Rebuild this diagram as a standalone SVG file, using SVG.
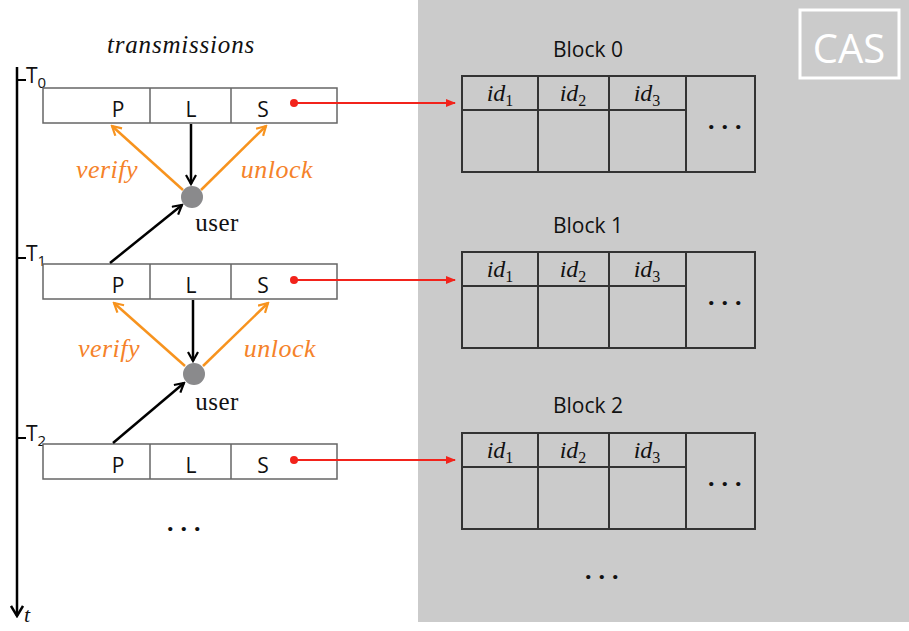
<svg xmlns="http://www.w3.org/2000/svg" width="909" height="631" viewBox="0 0 909 631">
<style>
.serif{font-family:"Liberation Serif","Times New Roman",serif}
.sans{font-family:"Open Sans","Liberation Sans",sans-serif}
.box{fill:#fff;stroke:#666;stroke-width:1.5}
.cell{fill:none;stroke:#333;stroke-width:2}
.ltr{font-size:21px;fill:#111;text-anchor:middle}
.id{font-size:24px;font-style:italic;fill:#111}
.sub{font-size:16px;font-style:normal}
.blk{font-size:21px;fill:#111;text-anchor:middle}
.org{stroke:#f7931e;stroke-width:2.5;fill:none;marker-end:url(#ao)}
.blk-arr{stroke:#000;stroke-width:2.5;fill:none;marker-end:url(#ab)}
.red{stroke:#f2231b;stroke-width:2;fill:none;marker-end:url(#ar)}
.lbl{font-size:26px;font-style:italic;fill:#f5822a;letter-spacing:0.5px}
.user{font-size:25px;fill:#111;text-anchor:middle;letter-spacing:0.5px}
.dots{font-size:26px;font-weight:bold;fill:#111;letter-spacing:7px}
</style>
<defs>
<marker id="ao" viewBox="0 0 12 12" refX="10" refY="6" markerWidth="12" markerHeight="12" markerUnits="userSpaceOnUse" orient="auto"><path d="M1,1 L10,6 L1,11" fill="none" stroke="#f7931e" stroke-width="2.2"/></marker>
<marker id="ab" viewBox="0 0 12 12" refX="10" refY="6" markerWidth="12" markerHeight="12" markerUnits="userSpaceOnUse" orient="auto"><path d="M1,1 L10,6 L1,11" fill="none" stroke="#000" stroke-width="2.2"/></marker>
<marker id="ar" viewBox="0 0 10 8" refX="9" refY="4" markerWidth="10" markerHeight="8" markerUnits="userSpaceOnUse" orient="auto"><path d="M0,0 L10,4 L0,8 Z" fill="#f2231b"/></marker>
<marker id="at" viewBox="0 0 14 14" refX="12" refY="7" markerWidth="14" markerHeight="14" markerUnits="userSpaceOnUse" orient="auto"><path d="M2,1 L12,7 L2,13" fill="none" stroke="#000" stroke-width="2.5"/></marker>
<g id="blockTpl">
<rect x="462" y="76" width="293" height="96" class="cell"/>
<line x1="538" y1="76" x2="538" y2="172" class="cell"/>
<line x1="609" y1="76" x2="609" y2="172" class="cell"/>
<line x1="686" y1="76" x2="686" y2="172" class="cell"/>
<line x1="462" y1="110" x2="686" y2="110" class="cell"/>
<text x="500" y="101" class="serif id" text-anchor="middle">id<tspan class="sub" dy="5">1</tspan></text>
<text x="573" y="101" class="serif id" text-anchor="middle">id<tspan class="sub" dy="5">2</tspan></text>
<text x="647" y="101" class="serif id" text-anchor="middle">id<tspan class="sub" dy="5">3</tspan></text>
<text x="708" y="129" class="serif dots">...</text>
</g>
<g id="rowTpl">
<rect x="43" y="88" width="294" height="35" class="box"/>
<line x1="150" y1="88" x2="150" y2="123" class="box"/>
<line x1="231" y1="88" x2="231" y2="123" class="box"/>
<text x="118" y="117" class="sans ltr">P</text>
<text x="191" y="117" class="sans ltr">L</text>
<text x="263" y="117" class="sans ltr">S</text>
</g>
</defs>

<g id="cas-panel">
<rect x="418" y="0" width="491" height="622" fill="#cbcbcb"/>
<rect x="800" y="10" width="99" height="68" fill="none" stroke="#fff" stroke-width="3"/>
<text x="849" y="63" class="sans" font-size="40" fill="#fff" text-anchor="middle">CAS</text>
</g>

<g id="block0">
<text x="588" y="57" class="sans blk">Block 0</text>
<use href="#blockTpl"/>
</g>
<g id="block1">
<text x="588" y="233" class="sans blk">Block 1</text>
<use href="#blockTpl" transform="translate(0,176)"/>
</g>
<g id="block2">
<text x="588" y="413" class="sans blk">Block 2</text>
<use href="#blockTpl" transform="translate(0,357)"/>
</g>
<text x="585" y="579" class="serif dots">...</text>

<g id="timeline">
<line x1="17" y1="67" x2="17" y2="616" stroke="#000" stroke-width="2.5" marker-end="url(#at)"/>
<text x="24" y="622" class="serif" font-size="22" font-style="italic" fill="#111">t</text>
<line x1="17" y1="80" x2="26" y2="80" stroke="#000" stroke-width="2"/>
<text x="26" y="83" class="sans" font-size="21" fill="#111">T<tspan font-size="15" dy="5">0</tspan></text>
<line x1="17" y1="258" x2="26" y2="258" stroke="#000" stroke-width="2"/>
<text x="26" y="261" class="sans" font-size="21" fill="#111">T<tspan font-size="15" dy="5">1</tspan></text>
<line x1="17" y1="438" x2="26" y2="438" stroke="#000" stroke-width="2"/>
<text x="26" y="441" class="sans" font-size="21" fill="#111">T<tspan font-size="15" dy="5">2</tspan></text>
</g>

<text x="181" y="53" class="serif" font-size="25" font-style="italic" fill="#111" text-anchor="middle" letter-spacing="0.8">transmissions</text>

<g id="row0"><use href="#rowTpl"/></g>
<g id="row1"><use href="#rowTpl" transform="translate(0,176)"/></g>
<g id="row2"><use href="#rowTpl" transform="translate(0,356)"/></g>
<text x="167" y="531" class="serif dots">...</text>

<g id="user0">
<circle cx="192" cy="197" r="11" fill="#8a8a8c"/>
<text x="217" y="231" class="serif user">user</text>
</g>
<g id="user1">
<circle cx="194" cy="374" r="11" fill="#8a8a8c"/>
<text x="217" y="410" class="serif user">user</text>
</g>

<g id="connectors">
<line x1="191" y1="124" x2="191" y2="184" class="blk-arr"/>
<line x1="183" y1="190" x2="112" y2="126" class="org"/>
<line x1="201" y1="190" x2="266" y2="126" class="org"/>
<line x1="110" y1="263" x2="182" y2="205" class="blk-arr"/>
<line x1="193" y1="300" x2="193" y2="361" class="blk-arr"/>
<line x1="185" y1="366" x2="114" y2="303" class="org"/>
<line x1="203" y1="366" x2="268" y2="303" class="org"/>
<line x1="113" y1="443" x2="184" y2="383" class="blk-arr"/>
<circle cx="294" cy="103" r="4" fill="#f2231b"/>
<line x1="294" y1="103" x2="455" y2="103" class="red"/>
<circle cx="294" cy="280" r="4" fill="#f2231b"/>
<line x1="294" y1="280" x2="455" y2="280" class="red"/>
<circle cx="294" cy="460" r="4" fill="#f2231b"/>
<line x1="294" y1="460" x2="455" y2="460" class="red"/>
<text x="107" y="178" class="serif lbl" text-anchor="middle">verify</text>
<text x="277" y="178" class="serif lbl" text-anchor="middle">unlock</text>
<text x="109" y="357" class="serif lbl" text-anchor="middle">verify</text>
<text x="280" y="357" class="serif lbl" text-anchor="middle">unlock</text>
</g>
</svg>
